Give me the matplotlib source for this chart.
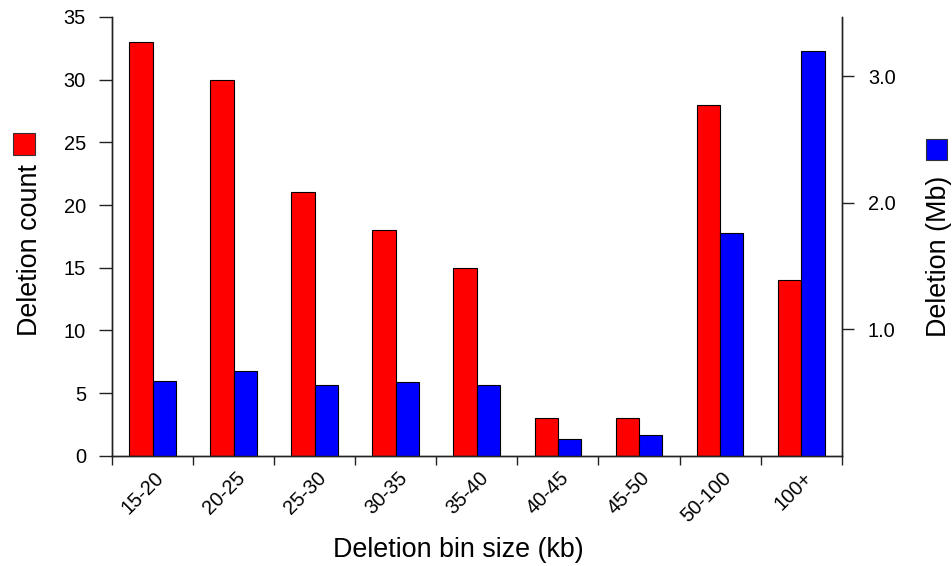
import matplotlib
matplotlib.use("Agg")
import matplotlib.pyplot as plt
from matplotlib.patches import Rectangle
import numpy as np

plt.rcParams['font.family'] = ['Liberation Sans', 'DejaVu Sans']

bins = ["15-20", "20-25", "25-30", "30-35", "35-40", "40-45", "45-50", "50-100", "100+"]
deletion_count = [33, 30, 21, 18, 15, 3, 3, 28, 14]
deletion_mb = [0.59, 0.67, 0.56, 0.58, 0.56, 0.13, 0.16, 1.76, 3.20]
count_ticks = [0, 5, 10, 15, 20, 25, 30, 35]
mb_ticks = [1.0, 2.0, 3.0]

W, H, DPI = 953, 566, 100
fig = plt.figure(figsize=(W / DPI, H / DPI), dpi=DPI)

def fx(px):
    return px / W

def fy(py):
    return 1 - py / H

left, right, top, bottom = 112, 841.7, 17, 455.7
ax = fig.add_axes([fx(left), fy(bottom), fx(right - left), (bottom - top) / H])
ax2 = ax.twinx()

x = np.arange(len(bins))
bw = 0.288
ax.bar(x - bw / 2, deletion_count, width=bw, color="#ff0000",
       edgecolor="black", linewidth=0.8, zorder=2)
ax2.bar(x + bw / 2, deletion_mb, width=bw, color="#0000ff",
        edgecolor="black", linewidth=0.8, zorder=2)

ax.set_xlim(-0.5, len(bins) - 0.5)
ax.set_ylim(0, 35)
ax2.set_ylim(0, 3.47)

axis_col = "#222222"
fs_tick = 14.4
for a in (ax, ax2):
    a.spines['top'].set_visible(False)
    for s in a.spines.values():
        s.set_color(axis_col)
        s.set_linewidth(1.0)

ax.set_yticks(count_ticks)
ax.set_yticklabels([str(t) for t in count_ticks])
ax.tick_params(axis='y', direction='out', length=9.1, width=1.0,
               color=axis_col, pad=9.6, labelsize=fs_tick)

ax2.set_yticks(mb_ticks)
ax2.set_yticklabels([f"{t:.1f}" for t in mb_ticks])
ax2.tick_params(axis='y', direction='out', length=8.4, width=1.0,
                color=axis_col, pad=10.4, labelsize=fs_tick)

# group boundaries carry the ticks; labels are rotated under each group
ax.set_xticks(np.arange(len(bins) + 1) - 0.5)
ax.set_xticklabels([])
ax.tick_params(axis='x', direction='out', length=6.7, width=1.0, color=axis_col)
for xi, lab in zip(x, bins):
    ax.annotate(lab, xy=(xi, 0), xycoords=('data', 'axes fraction'),
                xytext=(6, -14), textcoords='offset points',
                rotation=45, rotation_mode='anchor', ha='right', va='center',
                fontsize=fs_tick)

fs_lab = 19.4
fig.text(fx(458), fy(557), "Deletion bin size (kb)", ha='center', va='baseline',
         fontsize=fs_lab)
fig.text(fx(37), fy(249.5), "Deletion count", rotation=90, rotation_mode='anchor',
         ha='center', va='baseline', fontsize=fs_lab)
fig.text(fx(945.7), fy(256), "Deletion (Mb)", rotation=90, rotation_mode='anchor',
         ha='center', va='baseline', fontsize=fs_lab)

# colour keys next to the axis titles
fig.patches.append(Rectangle((fx(13), fy(155)), fx(22), 22 / H, facecolor="#ff0000",
                             edgecolor="#333333", linewidth=0.8,
                             transform=fig.transFigure, figure=fig))
fig.patches.append(Rectangle((fx(926), fy(160)), fx(21), 21 / H, facecolor="#0000ff",
                             edgecolor="#333333", linewidth=0.8,
                             transform=fig.transFigure, figure=fig))

fig.savefig("out.png", dpi=DPI)
